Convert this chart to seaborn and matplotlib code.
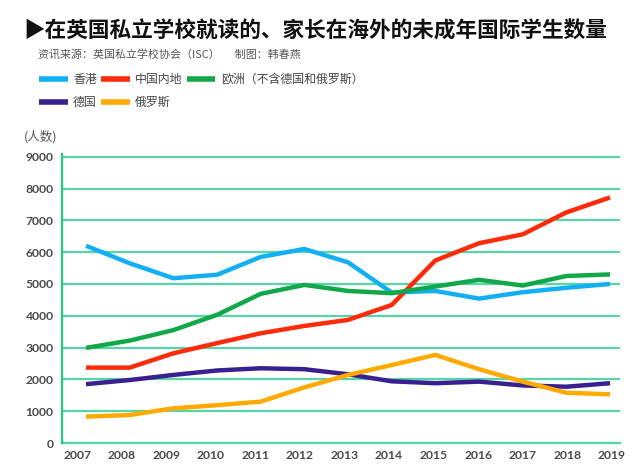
import numpy as np
import pandas as pd
import matplotlib
matplotlib.use("Agg")
import matplotlib.pyplot as plt
import seaborn as sns

years = ["2007", "2008", "2009", "2010", "2011", "2012", "2013",
         "2014", "2015", "2016", "2017", "2018", "2019"]
hongkong = [6200, 5650, 5180, 5290, 5850, 6100, 5680, 4730, 4780, 4540, 4740, 4880, 5000]
mainland = [2370, 2370, 2820, 3140, 3450, 3680, 3870, 4340, 5740, 6280, 6560, 7250, 7720]
europe = [2990, 3220, 3550, 4030, 4690, 4970, 4780, 4710, 4920, 5130, 4950, 5250, 5300]
germany = [1850, 1980, 2140, 2280, 2350, 2320, 2160, 1940, 1880, 1930, 1810, 1770, 1880]
russia = [830, 880, 1090, 1190, 1300, 1750, 2140, 2450, 2770, 2320, 1930, 1580, 1530]

series_names = ["香港", "中国内地", "欧洲（不含德国和俄罗斯）", "德国", "俄罗斯"]
series_values = [hongkong, mainland, europe, germany, russia]
colors = ["#12b0f2", "#ff2a0a", "#12a84a", "#3a1f8e", "#ffaa00"]

sns.set_style("white")
plt.rcParams["font.family"] = ["Noto Sans CJK SC", "DejaVu Sans"]

rows = []
for name, vals in zip(series_names, series_values):
    for i, v in enumerate(vals):
        rows.append({"pos": i, "year": years[i], "value": v, "region": name})
df = pd.DataFrame(rows)

fig = plt.figure(figsize=(6.4, 4.73), dpi=100)
ax = fig.add_axes([0.0969, 0.0634, 0.872, 0.612])

sns.lineplot(data=df, x="pos", y="value", hue="region", hue_order=series_names,
             palette=dict(zip(series_names, colors)), linewidth=3.2, ax=ax,
             legend=True, solid_capstyle="butt", zorder=3)

n = len(years)
ax.set_xlim(-0.55, 12.23)
ax.set_ylim(0, 9100)
ax.set_yticks(np.arange(0, 9001, 1000))
ax.set_yticklabels([str(v) for v in range(0, 9001, 1000)])
grid_c = "#55d6a8"
ax.yaxis.grid(True, color=grid_c, linewidth=1.6, zorder=1)
ax.xaxis.grid(False)
ax.set_axisbelow(True)

ax.set_xticks(np.linspace(-0.2, 12.04, n))
ax.set_xticklabels(years)
ax.set_xticks(np.linspace(0.2, 11.46, n - 1), minor=True)
ax.tick_params(axis="x", which="major", length=0, pad=5)
ax.tick_params(axis="x", which="minor", direction="in", length=4, width=1.5, color="#2ecc8a")
ax.tick_params(axis="y", length=0, pad=6)
for lab in ax.get_xticklabels() + ax.get_yticklabels():
    lab.set_fontfamily(["Lato", "DejaVu Sans"])
    lab.set_fontweight("bold")
    lab.set_fontsize(8.7)
    lab.set_color("#4a4a4a")
ax.set_xlabel("")
ax.set_ylabel("")

for s in ["top", "right"]:
    ax.spines[s].set_visible(False)
ax.spines["left"].set_color("#22c983")
ax.spines["left"].set_linewidth(1.6)
ax.spines["bottom"].set_color(grid_c)
ax.spines["bottom"].set_linewidth(1.6)
ax.spines["bottom"].set_zorder(2)

# legend reorder: column-first fill for ncol=3
handles, labels = ax.get_legend_handles_labels()
hmap = dict(zip(labels, handles))
order = ["香港", "德国", "中国内地", "俄罗斯", "欧洲（不含德国和俄罗斯）"]
for h in handles:
    h.set_linewidth(4)
leg = fig.legend([hmap[k] for k in order], order, ncol=3, loc="upper left",
                 bbox_to_anchor=(0.061, 0.846), frameon=False, fontsize=8.6,
                 handlelength=2.4, handletextpad=0.45, columnspacing=0.35,
                 labelspacing=0.85, borderpad=0, borderaxespad=0)
for t in leg.get_texts():
    t.set_color("#444444")
if ax.get_legend():
    ax.get_legend().remove()

fig.text(0.036, 0.935, "▶在英国私立学校就读的、家长在海外的未成年国际学生数量",
         fontsize=15.6, fontweight="bold", color="#111111", va="center", ha="left")
fig.text(0.059, 0.885, "资讯来源：英国私立学校协会（ISC）      制图：韩春燕",
         fontsize=7.9, color="#555555", va="center", ha="left")
fig.text(0.038, 0.711, "(人数)", fontsize=9, color="#555555", va="center", ha="left")

fig.savefig("out.png", dpi=100, facecolor="white")
